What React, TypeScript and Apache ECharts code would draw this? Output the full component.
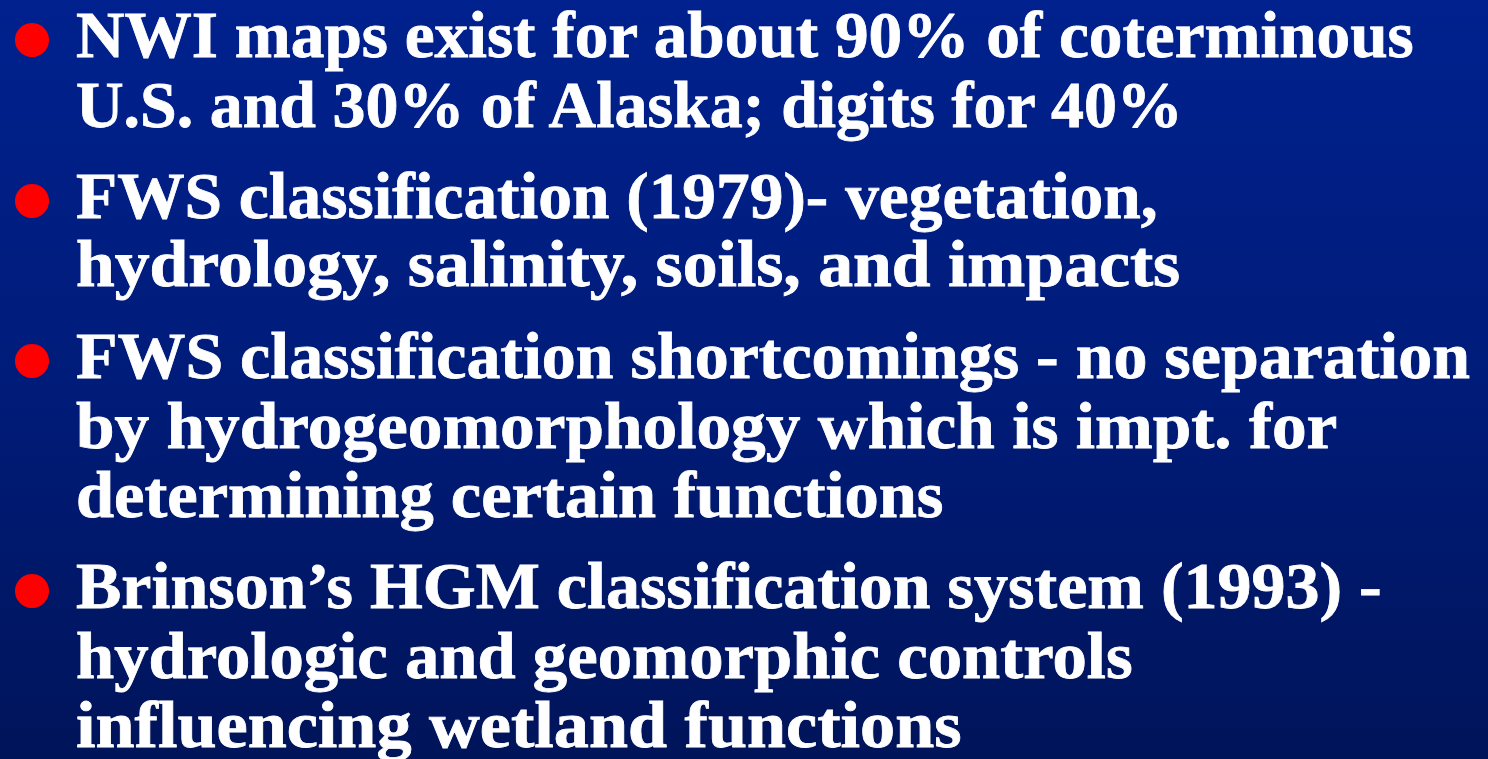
import React, { useEffect, useRef } from "react";
import * as echarts from "echarts";

const bulletLines: string[][] = [
  ["NWI maps exist for about 90% of coterminous", "U.S. and 30% of Alaska; digits for 40%"],
  ["FWS classification (1979)- vegetation,", "hydrology, salinity, soils, and impacts"],
  [
    "FWS classification shortcomings - no separation",
    "by hydrogeomorphology which is impt. for",
    "determining certain functions",
  ],
  [
    "Brinson\u2019s HGM classification system (1993) -",
    "hydrologic and geomorphic controls",
    "influencing wetland functions",
  ],
];

const baselines: number[][] = [
  [57, 127],
  [218, 287],
  [378, 448, 517],
  [608, 678, 747],
];

const rightEdges: number[][] = [
  [1415, 1188],
  [1158, 1180],
  [1470, 1338, 944],
  [1382, 1133, 962],
];

const W = 1488;
const H = 759;
const FONT_SIZE = 66;
const FONT_FAMILY = "'Liberation Serif', 'DejaVu Serif', serif";
const TEXT_X = 76;

export default function App() {
  const ref = useRef<HTMLDivElement>(null);

  useEffect(() => {
    if (!ref.current) return;
    const chart = echarts.init(ref.current, undefined, { renderer: "svg" });
    const canvas = document.createElement("canvas");
    const ctx = canvas.getContext("2d")!;
    ctx.font = `bold ${FONT_SIZE}px ${FONT_FAMILY}`;

    const elements: any[] = [
      {
        type: "rect",
        shape: { x: 0, y: 0, width: W, height: H },
        style: {
          fill: new echarts.graphic.LinearGradient(0, 0, 0, 1, [
            { offset: 0, color: "#00218e" },
            { offset: 0.5, color: "#001c7a" },
            { offset: 1, color: "#00145a" },
          ]),
        },
        silent: true,
      },
    ];

    bulletLines.forEach((lines, bi) => {
      elements.push({
        type: "circle",
        shape: { cx: 32, cy: baselines[bi][0] - 17, r: 17 },
        style: { fill: "#ff0000" },
      });
      lines.forEach((line, li) => {
        const measured = ctx.measureText(line).width || 1;
        const target = rightEdges[bi][li] - TEXT_X;
        const sx = target / measured;
        elements.push({
          type: "text",
          x: TEXT_X,
          y: baselines[bi][li] - FONT_SIZE * 0.34,
          scaleX: sx,
          style: {
            text: line,
            fill: "#ffffff",
            stroke: "#ffffff",
            lineWidth: 0.8,
            font: `bold ${FONT_SIZE}px ${FONT_FAMILY}`,
            lineHeight: 54,
            align: "left",
            verticalAlign: "middle",
          },
        });
      });
    });

    chart.setOption({
      animation: false,
      graphic: { elements },
    });

    return () => chart.dispose();
  }, []);

  return (
    <div
      ref={ref}
      style={{ position: "fixed", left: 0, top: 0, width: W, height: H }}
    />
  );
}
